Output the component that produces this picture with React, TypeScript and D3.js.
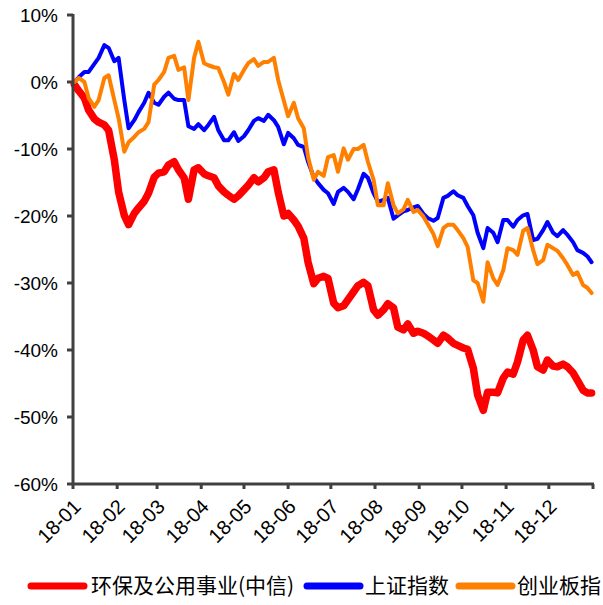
import * as React from 'react';
import * as d3 from 'd3';

const dates = [
  '01-02', '01-05', '01-09', '01-12', '01-16', '01-19', '01-23', '01-26', '01-30',
  '02-02', '02-06', '02-09', '02-13', '02-16', '02-20', '02-23', '02-27',
  '03-02', '03-06', '03-09', '03-13', '03-16', '03-20', '03-23', '03-27', '03-30',
  '04-03', '04-06', '04-10', '04-13', '04-17', '04-20', '04-24', '04-27',
  '05-01', '05-04', '05-08', '05-11', '05-15', '05-18', '05-22', '05-25', '05-29',
  '06-01', '06-05', '06-08', '06-12', '06-15', '06-19', '06-22', '06-26', '06-29',
  '07-03', '07-06', '07-10', '07-13', '07-17', '07-20', '07-24', '07-27', '07-31',
  '08-03', '08-07', '08-10', '08-14', '08-17', '08-21', '08-24', '08-28', '08-31',
  '09-04', '09-07', '09-11', '09-14', '09-18', '09-21', '09-25', '09-28',
  '10-02', '10-05', '10-09', '10-12', '10-16', '10-19', '10-23', '10-26', '10-30',
  '11-02', '11-06', '11-09', '11-13', '11-16', '11-20', '11-23', '11-27', '11-30',
  '12-04', '12-07', '12-11', '12-14', '12-18', '12-21', '12-25', '12-28', '12-31',
];

// 环保及公用事业(中信), % change since start of year
const envUtil = [
  -0.4, -1.3, -2.4, -4.2, -5.5, -6.0, -6.4, -7.2, -11.6,
  -16.4, -19.9, -21.3, -19.6, -18.8, -17.8, -16.6, -14.2,
  -13.6, -13.4, -12.4, -11.9, -13.1, -14.3, -17.5, -13.1, -12.8,
  -13.7, -14.0, -14.3, -15.5, -16.4, -16.9, -17.5, -17.0,
  -16.1, -15.4, -14.3, -14.9, -14.3, -13.4, -13.1, -16.4, -20.0,
  -19.6, -20.6, -21.5, -23.3, -26.9, -30.1, -29.3, -29.0, -29.3,
  -33.0, -33.7, -33.4, -32.5, -31.3, -30.4, -29.9, -30.4, -34.0,
  -34.8, -34.0, -33.1, -33.7, -36.6, -37.0, -36.1, -37.5, -37.2,
  -37.5, -37.9, -38.5, -39.0, -37.8, -38.2, -39.0, -39.3,
  -39.7, -39.9, -42.7, -46.7, -49.0, -46.3, -46.3, -46.4, -44.2,
  -43.3, -43.6, -41.8, -38.5, -37.8, -40.0, -42.5, -43.0, -41.5,
  -42.4, -42.5, -42.1, -42.5, -43.4, -44.5, -46.0, -46.4, -46.4,
];

// 上证指数
const shComp = [
  0.0, 0.7, 1.5, 1.5, 2.7, 3.6, 5.5, 5.1, 3.1,
  3.6, -2.7, -6.9, -5.7, -4.5, -3.1, -1.6, -3.1,
  -3.4, -2.2, -1.6, -2.5, -2.7, -2.7, -6.6, -7.0, -6.3,
  -7.2, -6.4, -5.2, -7.2, -8.7, -8.7, -7.5, -8.8,
  -8.1, -7.2, -5.8, -5.4, -5.8, -4.9, -5.7, -6.7, -9.3,
  -7.6, -8.4, -9.4, -9.7, -11.9, -14.2, -15.1, -16.1, -16.6,
  -18.2, -16.4, -15.8, -16.4, -17.5, -16.0, -13.7, -14.3, -16.6,
  -17.9, -17.6, -17.3, -20.4, -19.9, -19.3, -19.1, -18.7, -18.5,
  -19.7, -20.3, -20.7, -20.3, -17.3, -17.0, -16.3, -16.9,
  -17.3, -18.5, -19.9, -22.5, -24.8, -21.8, -22.5, -23.9, -20.6,
  -20.6, -21.6, -20.6, -19.9, -19.7, -23.6, -23.4, -22.1, -20.9,
  -22.5, -23.0, -22.1, -22.8, -23.9, -25.1, -25.5, -26.0, -26.9,
];

// 创业板指
const chinext = [
  0.0, 0.6, 0.0, -2.4, -3.7, -2.7, 0.6, 1.0, -2.7,
  -5.4, -10.4, -9.0, -8.2, -7.5, -7.0, -6.0, -0.4,
  0.3, 1.5, 3.6, 3.9, 1.8, 2.2, -2.7, 3.6, 6.0,
  2.8, 2.5, 2.2, 2.1, 0.0, -1.9, 1.2, 0.3,
  1.8, 2.8, 3.4, 2.4, 3.0, 3.0, 3.6, 0.3, -2.8,
  -5.1, -3.1, -5.4, -6.9, -11.2, -14.6, -13.4, -14.0, -11.2,
  -10.9, -13.4, -9.9, -11.6, -10.0, -10.0, -9.4, -11.9, -14.6,
  -18.4, -18.4, -15.1, -18.4, -19.6, -19.0, -17.6, -19.4, -19.1,
  -20.1, -21.2, -22.7, -24.5, -21.8, -21.3, -21.3, -22.1,
  -23.3, -24.6, -29.6, -30.0, -32.8, -26.9, -29.3, -30.3, -28.1,
  -24.8, -25.1, -25.8, -22.2, -21.8, -25.1, -27.2, -26.6, -24.3,
  -24.8, -25.2, -26.3, -27.3, -28.8, -28.4, -30.3, -30.7, -31.5,
];

const seriesNames = ['环保及公用事业(中信)', '上证指数', '创业板指'];
const yTicks = [10, 0, -10, -20, -30, -40, -50, -60];

const W = 603;
const H = 605;
const M = { left: 73, right: 10, top: 15, bottom: 121 };
const AXIS = '#404040';
const LATIN = '"Liberation Sans", Arial, sans-serif';
const CJK = '"Noto Sans CJK SC", "Liberation Sans", sans-serif';

export default function App() {
  const parse = d3.timeParse('%Y-%m-%d');
  const xs = dates.map((d) => parse('2018-' + d) as Date);

  const x = d3.scaleTime()
    .domain([new Date(2018, 0, 1), new Date(2019, 0, 1)])
    .range([M.left, W - M.right]);
  const y = d3.scaleLinear().domain([-60, 10]).range([H - M.bottom, M.top]);

  const line = d3.line<number>()
    .x((_, i) => x(xs[i]))
    .y((v) => y(v));

  const series = [
    { name: seriesNames[0], values: envUtil, color: '#FF0000', width: 7.5 },
    { name: seriesNames[1], values: shComp, color: '#0000FF', width: 4 },
    { name: seriesNames[2], values: chinext, color: '#FF8000', width: 4 },
  ];

  const monthTicks = x.ticks(d3.timeMonth.every(1) as d3.TimeInterval);
  const fmt = d3.timeFormat('%y-%m');
  const y0 = H - M.bottom;

  // legend layout: swatch start, text start
  const legend = [
    { sx: 31, tx: 91 },
    { sx: 307, tx: 365 },
    { sx: 459, tx: 517 },
  ];
  const ly = 586;

  return (
    <div style={{ position: 'absolute', left: 0, top: 0 }}>
      <svg width={W} height={H} style={{ display: 'block', background: '#fff' }}>
        {series.map((s) => (
          <path
            key={s.name}
            d={line(s.values) || ''}
            fill="none"
            stroke={s.color}
            strokeWidth={s.width}
            strokeLinejoin="round"
            strokeLinecap="round"
          />
        ))}

        {/* y axis */}
        <line x1={M.left} x2={M.left} y1={M.top - 1} y2={y0} stroke={AXIS} strokeWidth={3} />
        {yTicks.map((t) => (
          <g key={t} transform={`translate(0,${y(t)})`}>
            <line x1={M.left - 6} x2={M.left} stroke={AXIS} strokeWidth={3} />
            <text
              x={M.left - 15}
              dy="0.35em"
              textAnchor="end"
              fontFamily={LATIN}
              fontSize={19}
              fill="#000"
            >
              {t}%
            </text>
          </g>
        ))}

        {/* x axis */}
        <line x1={M.left} x2={W - M.right + 1} y1={y0} y2={y0} stroke={AXIS} strokeWidth={3} />
        {monthTicks.map((t, i) => (
          <g key={i} transform={`translate(${x(t)},${y0})`}>
            <line y1={0} y2={5} stroke={AXIS} strokeWidth={3} />
            {i < monthTicks.length - 1 && (
              <text
                transform="translate(9,24) rotate(-45)"
                textAnchor="end"
                fontFamily={LATIN}
                fontSize={20}
                fill="#000"
              >
                {fmt(t)}
              </text>
            )}
          </g>
        ))}

        {/* legend */}
        {series.map((s, i) => (
          <g key={'lg' + i}>
            <line
              x1={legend[i].sx}
              x2={legend[i].sx + 53}
              y1={ly}
              y2={ly}
              stroke={s.color}
              strokeWidth={7}
              strokeLinecap="round"
            />
            <text
              x={legend[i].tx}
              y={ly}
              dy="0.35em"
              fontFamily={CJK}
              fontSize={21}
              fill="#000"
            >
              {s.name}
            </text>
          </g>
        ))}
      </svg>
    </div>
  );
}
